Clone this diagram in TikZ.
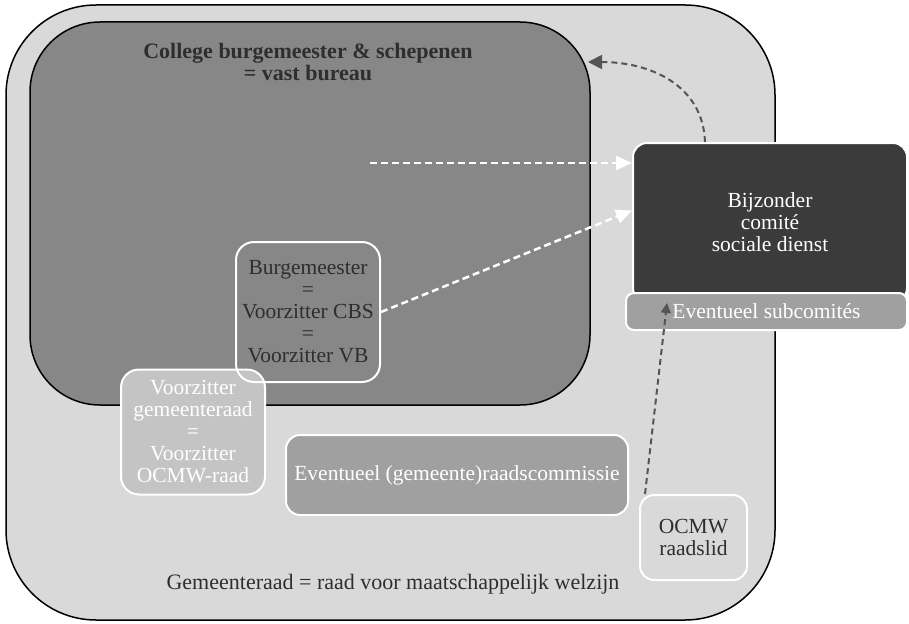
\documentclass[tikz,border=0pt]{standalone}
\usepackage{fontspec}
\setmainfont{Liberation Serif}
\usepackage{xcolor}
\usetikzlibrary{arrows.meta,positioning}

\definecolor{raadgrijs}{HTML}{D9D9D9}
\definecolor{collegegrijs}{HTML}{878787}
\definecolor{voorzgrijs}{HTML}{C4C4C4}
\definecolor{middengrijs}{HTML}{A0A0A0}
\definecolor{comitegrijs}{HTML}{3B3B3B}
\definecolor{tekstgrijs}{HTML}{2E2E2E}
\definecolor{pijlgrijs}{HTML}{555555}

\begin{document}
\begin{tikzpicture}[
        x=1pt, y=-1pt,
        >=Latex,
        groot/.style={rectangle, draw=black, line width=1.5pt},
        vak/.style={rectangle, rounded corners=14pt, draw=white, line width=2pt, align=center, inner sep=1pt, font=\fontsize{21.5}{22}\selectfont},
        witpijl/.style={draw=white, line width=2.5pt, dash pattern=on 7pt off 4pt, -{Triangle[length=16pt, width=14pt]}},
        grijspijl/.style={draw=pijlgrijs, line width=2pt, dash pattern=on 6pt off 4pt}
    ]
        \useasboundingbox (0,0) rectangle (909,623);

        % grote kaders
        \node[groot, fill=raadgrijs, rounded corners=90pt, minimum width=769pt, minimum height=615pt] (raad) at (390.5,312.5) {};
        \node[groot, fill=collegegrijs, rounded corners=70pt, minimum width=560pt, minimum height=383pt] (college) at (310,213.5) {};
        \node[align=center, text=tekstgrijs, font=\fontsize{22}{22}\selectfont\bfseries] (titel) at (308,62) {College burgemeester \& schepenen\\= vast bureau};
        \node[text=tekstgrijs, font=\fontsize{22}{22}\selectfont] (raadlabel) at (393,584) {Gemeenteraad = raad voor maatschappelijk welzijn};

        % kleine vakken
        \node[vak, fill=voorzgrijs, text=white, rounded corners=18pt, minimum width=144pt, minimum height=125pt] (voorz) at (193,432) {Voorzitter\\gemeenteraad\\=\\Voorzitter\\OCMW-raad};
        \node[vak, text=tekstgrijs, rounded corners=18pt, minimum width=144pt, minimum height=140pt] (burg) at (308,312) {Burgemeester\\=\\Voorzitter CBS\\=\\Voorzitter VB};
        \node[vak, fill=middengrijs, text=white, minimum width=342pt, minimum height=80pt] (comm) at (457,475) {Eventueel (gemeente)raadscommissie};
        \node[vak, fill=raadgrijs, text=tekstgrijs, minimum width=107pt, minimum height=85pt] (ocmw) at (693.5,537.5) {OCMW\\raadslid};
        \node[vak, fill=comitegrijs, text=white, minimum width=274pt, minimum height=159pt] (bijz) at (770,222.5) {Bijzonder\\comité\\sociale dienst};
        \node[vak, fill=middengrijs, text=white, rounded corners=8pt, minimum width=281pt, minimum height=37pt] (sub) at (766.5,311.5) {Eventueel subcomités};

        % pijlen
        \coordinate (pijlstart) at (370,163);
        \coordinate (bureauhoek) at (588,62);
        \draw[witpijl] (pijlstart) -- (pijlstart -| bijz.west);
        \draw[witpijl] (burg.east) -- ([yshift=12pt]bijz.west);
        \draw[grijspijl, -{Triangle[length=14pt, width=14pt]}] ([xshift=-65pt]bijz.north) .. controls (703,85) and (650,62) .. (bureauhoek);
        \draw[grijspijl, -{Triangle[length=10pt, width=10pt]}] ([xshift=6pt]ocmw.north west) -- ([xshift=35pt]bijz.south west);
    \end{tikzpicture}
\end{document}
